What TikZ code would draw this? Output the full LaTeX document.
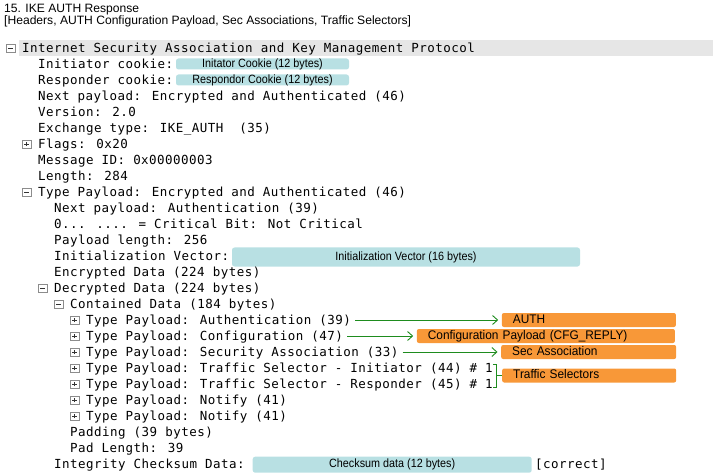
\documentclass[tikz,border=0pt]{standalone}
\usepackage{fontspec}
\usetikzlibrary{arrows.meta}
\newfontfamily\monofont[LetterSpace=3.8]{DejaVu Sans Mono}
\newfontfamily\uifont{Liberation Sans}
\newfontfamily\narrowfont[FakeStretch=0.9]{Liberation Sans}
\newfontfamily\tagfont[FakeStretch=0.95]{Liberation Sans}
\definecolor{valcyan}{RGB}{184,224,227}
\definecolor{tagorange}{RGB}{248,152,56}
\definecolor{selgreen}{RGB}{30,140,30}
\definecolor{rowgray}{RGB}{230,230,230}
\definecolor{foldgray}{RGB}{140,140,140}
\begin{document}
\begin{tikzpicture}[x=1pt, y=-1pt,
% common options for the tree lines:
field/.style = {anchor=west, inner sep=0, text height=12pt, text depth=3pt,
            font=\monofont\fontsize{12.5}{15}\selectfont},
head/.style = {anchor=base west, inner sep=0, font=\uifont\fontsize{12.1}{14}\selectfont},
% common options for the +/- boxes:
fold/.style = {draw=foldgray, fill=white, minimum size=8.5pt, inner sep=0,
            path picture={\draw[black!80] ([xshift=2pt]path picture bounding box.west)
            -- ([xshift=-2pt]path picture bounding box.east);}},
unfold/.style = {draw=foldgray, fill=white, minimum size=8.5pt, inner sep=0,
            path picture={\draw[black!80] ([xshift=2pt]path picture bounding box.west)
            -- ([xshift=-2pt]path picture bounding box.east)
            ([yshift=2pt]path picture bounding box.south)
            -- ([yshift=-2pt]path picture bounding box.north);}},
% common options for the value boxes and tags:
valbox/.style = {fill=valcyan, rounded corners=2.5pt, inner sep=0, text height=8.5pt, text depth=2pt,
            font=\narrowfont\fontsize{12}{13}\selectfont},
tag/.style = {fill=tagorange, rounded corners=2pt, anchor=west, align=left, inner xsep=11pt,
            inner ysep=0, minimum height=14pt, text height=9pt, text depth=2.5pt,
            font=\tagfont\fontsize{12.5}{14}\selectfont},
link/.style = {selgreen, line width=0.9pt, -{Straight Barb[length=5pt,width=9pt]},
            shorten <=4pt, shorten >=3.5pt}]
\useasboundingbox (0,0) rectangle (713,476);
\fill[rowgray] (19,40.5) rectangle (713,56.5);
\node[head] (H0) at (4,12.3) {15. IKE AUTH Response};
\node[head] (H1) at (4,25) {[Headers, AUTH Configuration Payload, Sec Associations, Traffic Selectors]};
% header part
\node[fold] (F0) at (10.5,48) {};
\node[field] (R0) at (22,48) {Internet Security Association and Key Management Protocol};
\node[field] (R1) at (38,64) {Initiator cookie:};
\node[valbox, minimum width=173, minimum height=11] (V1) at (262.5,64) {Initator Cookie (12 bytes)};
\node[field] (R2) at (38,80) {Responder cookie:};
\node[valbox, minimum width=173, minimum height=11] (V2) at (262.5,80) {Respondor Cookie (12 bytes)};
\node[field] (R3) at (38,96) {Next payload: Encrypted and Authenticated (46)};
\node[field] (R4) at (38,112) {Version: 2.0};
\node[field] (R5) at (38,128) {Exchange type: IKE\_AUTH\ \ (35)};
\node[unfold] (F1) at (26.5,144) {};
\node[field] (R6) at (38,144) {Flags: 0x20};
\node[field] (R7) at (38,160) {Message ID: 0x00000003};
\node[field] (R8) at (38,176) {Length: 284};
% encrypted payload
\node[fold] (F2) at (26.5,192) {};
\node[field] (R9) at (38,192) {Type Payload: Encrypted and Authenticated (46)};
\node[field] (R10) at (54,208) {Next payload: Authentication (39)};
\node[field] (R11) at (54,224) {0... .... = Critical Bit: Not Critical};
\node[field] (R12) at (54,240) {Payload length: 256};
\node[field] (R13) at (54,256) {Initialization Vector:};
\node[valbox, minimum width=348, minimum height=19] (V3) at (406,257) {Initialization Vector (16 bytes)};
\node[field] (R14) at (54,272) {Encrypted Data (224 bytes)};
\node[fold] (F3) at (42.5,288) {};
\node[field] (R15) at (54,288) {Decrypted Data (224 bytes)};
\node[fold] (F4) at (58.5,304) {};
\node[field] (R16) at (70,304) {Contained Data (184 bytes)};
\node[unfold] (F5) at (74.5,320) {};
\node[field] (R17) at (86,320) {Type Payload: Authentication (39)};
\node[unfold] (F6) at (74.5,336) {};
\node[field] (R18) at (86,336) {Type Payload: Configuration (47)};
\node[unfold] (F7) at (74.5,352) {};
\node[field] (R19) at (86,352) {Type Payload: Security Association (33)};
\node[unfold] (F8) at (74.5,368) {};
\node[field] (R20) at (86,368) {Type Payload: Traffic Selector - Initiator (44) \# 1};
\node[unfold] (F9) at (74.5,384) {};
\node[field] (R21) at (86,384) {Type Payload: Traffic Selector - Responder (45) \# 1};
\node[unfold] (F10) at (74.5,400) {};
\node[field] (R22) at (86,400) {Type Payload: Notify (41)};
\node[unfold] (F11) at (74.5,416) {};
\node[field] (R23) at (86,416) {Type Payload: Notify (41)};
\node[field] (R24) at (70,432) {Padding (39 bytes)};
\node[field] (R25) at (70,448) {Pad Length: 39};
\node[field] (R26) at (54,464) {Integrity Checksum Data:};
\node[valbox, minimum width=279, minimum height=16] (V4) at (392.2,464.7) {Checksum data (12 bytes)};
\node[field] (R27) at (535,464) {[correct]};
% tags on the right
\node[tag, text width=152pt] (T1) at (501.7,320) {AUTH};
\node[tag, text width=236pt] (T2) at (416.7,336) {Configuration Payload (CFG\_REPLY)};
\node[tag, text width=153pt] (T3) at (501,352) {Sec Association};
\node[tag, text width=152pt] (T4) at (502,375.5) {Traffic Selectors};
\draw[link] (R17.east) to (T1.west);
\draw[link] (R18.east) to (T2.west);
\draw[link] (R19.east) to (T3.west);
\draw[selgreen, line width=0.8pt] ([yshift=-4pt]R20.north east) -- ++(4,0) coordinate (B0)
    |- ([yshift=4pt]R21.south east);
\draw[selgreen, line width=0.8pt] (B0 |- T4.west) to (T4.west);
\end{tikzpicture}
\end{document}
